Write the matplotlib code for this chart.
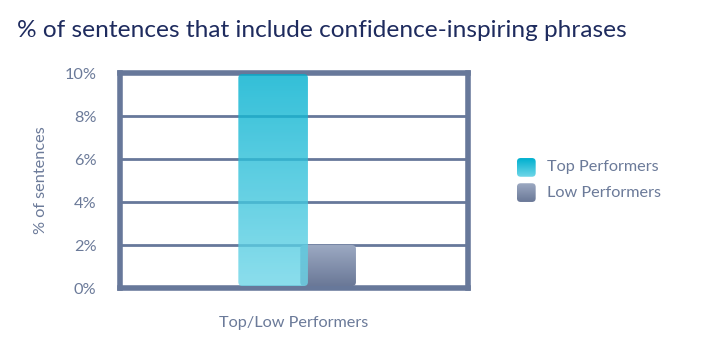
import matplotlib
matplotlib.use('Agg')
import matplotlib.pyplot as plt
import numpy as np
from matplotlib.patches import FancyBboxPatch
from matplotlib.colors import LinearSegmentedColormap

# Data
groups = ['Top Performers', 'Low Performers']
values = [10, 2]
yticks = [0, 2, 4, 6, 8, 10]
title = '% of sentences that include confidence-inspiring phrases'

# Style
plt.rcParams['font.family'] = ['Lato', 'DejaVu Sans']
frame_col = '#67789a'
text_col = '#6b7a99'
grads = [('#6fd6e8', '#00b0cf'), ('#6a7897', '#9ca9c2')]
centers = [-0.06, 0.098]
widths = [0.2, 0.16]
alphas = [0.8, 1.0]

fig = plt.figure(figsize=(7.2, 3.6), dpi=100)
ax = fig.add_axes([0.1667, 0.2, 0.4833, 0.597])
ax.set_xlim(-0.5, 0.5)
ax.set_ylim(0, 10)

for s in ax.spines.values():
    s.set_linewidth(4)
    s.set_color(frame_col)
ax.set_yticks(yticks)
ax.set_yticklabels(['%d%%' % t for t in yticks], color=text_col, fontsize=11.7)
ax.set_xticks([])
ax.tick_params(axis='y', length=0, pad=17)
for t in yticks[1:-1]:
    ax.axhline(t, color=frame_col, linewidth=2, zorder=1)

# aspect for rounded corners
bbox = ax.get_window_extent()
xpp = 1.0 / bbox.width
ypp = 10.0 / bbox.height
r = 4 * xpp
asp = ypp / xpp

# draw low bar first, then top bar over it
for i in [1, 0]:
    x0 = centers[i] - widths[i] / 2
    y0 = 2 * ypp
    h = values[i] - y0
    if i == 0:
        h = values[i] - y0 - 1 * ypp
    cmap = LinearSegmentedColormap.from_list('g%d' % i, grads[i])
    grad = np.linspace(0, 1, 256).reshape(-1, 1)
    patch = FancyBboxPatch((x0, y0), widths[i], h,
                           boxstyle='round,pad=0,rounding_size=%f' % r,
                           mutation_aspect=asp, facecolor='none',
                           edgecolor='none', transform=ax.transData)
    ax.add_patch(patch)
    im = ax.imshow(grad, cmap=cmap, origin='lower', aspect='auto',
                   extent=[x0, x0 + widths[i], y0, y0 + h],
                   zorder=3 + (1 - i), alpha=alphas[i])
    im.set_clip_path(patch)
ax.set_xlim(-0.5, 0.5)
ax.set_ylim(0, 10)

ax.set_xlabel('Top/Low Performers', color=text_col, fontsize=11.7, labelpad=20)
ax.set_ylabel('% of sentences', color=text_col, fontsize=11.7, labelpad=12)

fig.text(0.024, 0.915, title, color='#1e2b5e', fontsize=17.6, va='center')

# legend
for i, g in enumerate(groups):
    ly = 0.535 - i * 0.07
    lax = fig.add_axes([0.718, ly - 0.026, 0.026, 0.052])
    lax.set_axis_off()
    lax.set_xlim(0, 1)
    lax.set_ylim(0, 1)
    cmap = LinearSegmentedColormap.from_list('l%d' % i, grads[i])
    p = FancyBboxPatch((0, 0), 1, 1, boxstyle='round,pad=0,rounding_size=0.2',
                       facecolor='none', edgecolor='none',
                       transform=lax.transData)
    lax.add_patch(p)
    im = lax.imshow(np.linspace(0, 1, 64).reshape(-1, 1), cmap=cmap,
                    origin='lower', aspect='auto', extent=[0, 1, 0, 1])
    im.set_clip_path(p)
    fig.text(0.76, ly, g, color=text_col, fontsize=11.7, va='center')

plt.savefig('out.png', dpi=100)
